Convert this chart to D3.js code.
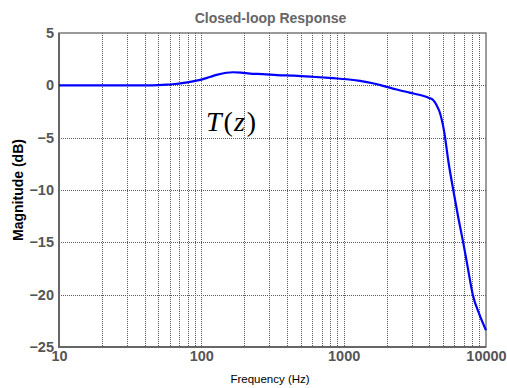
<!DOCTYPE html>
<html>
<head>
<meta charset="utf-8">
<script src="https://cdn.jsdelivr.net/npm/d3@7"></script>
<style>
  html, body { margin: 0; padding: 0; background: #fff; }
  svg { display: block; }
</style>
</head>
<body>
<svg id="chart" width="507" height="388"></svg>
<script>
// Closed-loop magnitude response samples
const freqHz = [10, 20, 30, 40, 50, 57, 65, 75, 85, 100, 115, 130, 150, 167, 190, 220, 270, 340, 450, 600, 842, 1050, 1303, 1600, 1892, 2362, 3076, 3600, 3980, 4250, 4500, 4710, 5080, 5446, 5906, 6400, 6935, 7400, 8075, 9000, 10000];
const magDb  = [0, 0, 0, 0, 0.02, 0.06, 0.13, 0.24, 0.36, 0.55, 0.8, 1.02, 1.2, 1.25, 1.22, 1.12, 1.08, 0.98, 0.92, 0.82, 0.68, 0.58, 0.42, 0.2, -0.05, -0.4, -0.78, -1.0, -1.2, -1.4, -1.9, -2.5, -4.4, -7.3, -10.1, -12.7, -15.1, -17.2, -20.0, -21.9, -23.4];

const yTicks = [5, 0, -5, -10, -15, -20, -25];
const xTicks = [10, 100, 1000, 10000];

const svg = d3.select("#chart");
const plotL = 59, plotR = 486, plotT = 33, plotB = 347;

const x = d3.scaleLog().domain([10, 10000]).range([plotL, plotR]);
const y = d3.scaleLinear().domain([-25, 5]).range([plotB, plotT]);

// Grid: every 1..9 multiple per decade, every 5 dB
const gridX = [];
for (let d = 10; d < 10000; d *= 10) {
  for (let k = 2; k <= 10; k++) gridX.push(d * k);
}
const grid = svg.append("g").attr("stroke", "#5a5a5a").attr("stroke-width", 1)
  .attr("stroke-dasharray", "1,1");
grid.selectAll("line.vx").data(gridX.filter(v => v < 10000)).enter().append("line")
  .attr("x1", d => Math.round(x(d)) + 0.5).attr("x2", d => Math.round(x(d)) + 0.5)
  .attr("y1", plotT).attr("y2", plotB);
grid.selectAll("line.hy").data(yTicks.filter(v => v !== 5 && v !== -25)).enter().append("line")
  .attr("x1", plotL).attr("x2", plotR)
  .attr("y1", d => Math.round(y(d)) + 0.5).attr("y2", d => Math.round(y(d)) + 0.5);

// Frame: heavier left and bottom edges
svg.append("rect").attr("x", plotL).attr("y", plotT)
  .attr("width", plotR - plotL).attr("height", plotB - plotT)
  .attr("fill", "none").attr("stroke", "#666").attr("stroke-width", 1.3);
svg.append("path")
  .attr("d", `M${plotL},${plotT}V${plotB}H${plotR}`)
  .attr("fill", "none").attr("stroke", "#666").attr("stroke-width", 2);

// Tick labels
const yAxis = svg.append("g").attr("transform", `translate(${plotL},0)`)
  .call(d3.axisLeft(y).tickValues(yTicks).tickSize(0).tickPadding(5).tickFormat(d3.format("d")));
const xAxis = svg.append("g").attr("transform", `translate(0,${plotB})`)
  .call(d3.axisBottom(x).tickValues(xTicks).tickSize(0).tickPadding(4).tickFormat(d3.format("d")));
[yAxis, xAxis].forEach(a => {
  a.select(".domain").remove();
  a.selectAll("text")
    .attr("font-family", "Liberation Sans, Arial, sans-serif")
    .attr("font-size", 14.5).attr("font-weight", "bold").attr("fill", "#555");
});

// Response curve
const line = d3.line().x((d, i) => x(freqHz[i])).y(d => y(d)).curve(d3.curveMonotoneX);
svg.append("path").datum(magDb).attr("d", line)
  .attr("fill", "none").attr("stroke", "#0000ff").attr("stroke-width", 2.2);

// Title and axis titles
svg.append("text").attr("x", (plotL + plotR) / 2 - 2).attr("y", 23).attr("text-anchor", "middle")
  .attr("font-family", "Liberation Sans, Arial, sans-serif").attr("font-size", 14)
  .attr("font-weight", "bold").attr("fill", "#666").text("Closed-loop Response");
svg.append("text").attr("x", 270).attr("y", 383).attr("text-anchor", "middle")
  .attr("font-family", "Liberation Sans, Arial, sans-serif").attr("font-size", 11.5)
  .attr("fill", "#000").text("Frequency (Hz)");
svg.append("text").attr("transform", `translate(23,${(plotT + plotB) / 2}) rotate(-90)`)
  .attr("text-anchor", "middle")
  .attr("font-family", "Liberation Sans, Arial, sans-serif").attr("font-size", 14)
  .attr("font-weight", "bold").attr("fill", "#000").text("Magnitude (dB)");

// Transfer function annotation
const tz = svg.append("text").attr("x", 206).attr("y", 131)
  .attr("font-family", "Liberation Serif, Times New Roman, serif").attr("font-size", 28).attr("fill", "#000");
tz.append("tspan").attr("font-style", "italic").text("T");
tz.append("tspan").attr("dx", 2).text("(");
tz.append("tspan").attr("dx", 1).attr("font-style", "italic").text("z");
tz.append("tspan").attr("dx", 2).text(")");
</script>
</body>
</html>
